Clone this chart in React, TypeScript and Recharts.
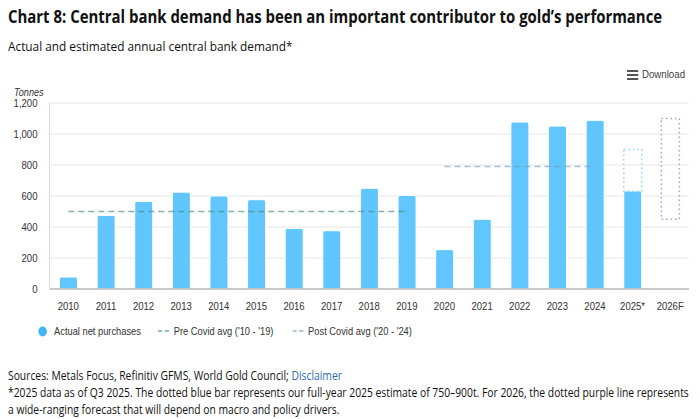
import { ComposedChart, Bar, Line, XAxis, YAxis, CartesianGrid } from 'recharts'

const years = ['2010', '2011', '2012', '2013', '2014', '2015', '2016', '2017', '2018', '2019', '2020', '2021', '2022', '2023', '2024', '2025*', '2026F']
const actual = [77, 475, 565, 625, 600, 576, 391, 376, 650, 604, 254, 450, 1077, 1051, 1088, 632, null]
// full-year 2025 estimate upper end (dotted blue)
const estimateHigh = [null, null, null, null, null, null, null, null, null, null, null, null, null, null, null, 900, null]
// 2026 forecast range (dotted purple)
const forecastLow = [null, null, null, null, null, null, null, null, null, null, null, null, null, null, null, null, 450]
const forecastHigh = [null, null, null, null, null, null, null, null, null, null, null, null, null, null, null, null, 1100]
const preCovidAvg = [500, 500, 500, 500, 500, 500, 500, 500, 500, 500, null, null, null, null, null, null, null]
const postCovidAvg = [null, null, null, null, null, null, null, null, null, null, 790, 790, 790, 790, 790, null, null]
const yTicks = [0, 200, 400, 600, 800, 1000, 1200]

const data = years.map((year, i) => ({
  year,
  actual: actual[i],
  estimate: estimateHigh[i] != null && actual[i] != null ? estimateHigh[i]! - actual[i]! : null,
  base: forecastLow[i],
  forecast: forecastHigh[i] != null && forecastLow[i] != null ? forecastHigh[i]! - forecastLow[i]! : null,
  pre: preCovidAvg[i],
  post: postCovidAvg[i],
}))

const BAR = '#62c6fe'
const PRE = '#3f8f80'
const POST = '#6f93b5'
const axisFont = '"Liberation Sans", Arial, sans-serif'
const textFont = '"Open Sans", "Noto Sans", sans-serif'
// the reference screenshot is squeezed horizontally
const SQ = 0.87

function Squeeze({ k, left, top, style, children }: { k: number; left: number; top: number; style?: any; children: any }) {
  return (
    <div style={{ position: 'absolute', left, top, transform: `scaleX(${k})`, transformOrigin: 'left top', whiteSpace: 'nowrap', ...style }}>
      {children}
    </div>
  )
}

function XTick(props: any) {
  const { x, y, payload } = props
  return (
    <g transform={`translate(${x},${y}) scale(${SQ},1)`}>
      <text x={0} y={0} dy="0.71em" textAnchor="middle" fill="#333" fontSize={11} fontFamily={axisFont}>
        {payload.value}
      </text>
    </g>
  )
}

function YTick(props: any) {
  const { x, y, payload } = props
  return (
    <g transform={`translate(${x},${y}) scale(${SQ},1)`}>
      <text x={0} y={0} dy="0.355em" textAnchor="end" fill="#333" fontSize={11} fontFamily={axisFont}>
        {Number(payload.value).toLocaleString('en-US')}
      </text>
    </g>
  )
}

export default function App() {
  return (
    <div style={{ position: 'absolute', left: 0, top: 0, width: 700, height: 419, background: '#fff', overflow: 'hidden' }}>
      <Squeeze k={0.878} left={8} top={5} style={{ fontFamily: textFont, fontWeight: 700, fontSize: 17, color: '#111' }}>
        Chart 8: Central bank demand has been an important contributor to gold’s performance
      </Squeeze>
      <Squeeze k={0.876} left={8} top={37} style={{ fontFamily: textFont, fontSize: 13.5, color: '#111' }}>
        Actual and estimated annual central bank demand*
      </Squeeze>
      <Squeeze k={0.88} left={627} top={68} style={{ fontFamily: axisFont, fontSize: 11, color: '#444', display: 'flex', alignItems: 'center' }}>
        <svg width={13} height={11} style={{ marginRight: 4 }}>
          <rect x={0} y={1} width={13} height={2} fill="#555" />
          <rect x={0} y={5} width={13} height={2} fill="#555" />
          <rect x={0} y={9} width={13} height={2} fill="#555" />
        </svg>
        Download
      </Squeeze>
      <Squeeze k={SQ} left={14} top={86} style={{ fontFamily: axisFont, fontStyle: 'italic', fontSize: 10.5, color: '#333' }}>
        Tonnes
      </Squeeze>

      <div style={{ position: 'absolute', left: 0, top: 0 }}>
        <ComposedChart width={700} height={419} data={data} margin={{ top: 103, right: 11, bottom: 100, left: 9.5 }}>
          <CartesianGrid vertical={false} stroke="#e6e6e6" />
          <XAxis
            dataKey="year"
            height={30}
            tickLine={false}
            tickMargin={7}
            axisLine={{ stroke: '#bdbdbd', strokeWidth: 1.5 }}
            tick={<XTick />}
            interval={0}
          />
          <YAxis
            width={40}
            domain={[0, 1200]}
            ticks={yTicks}
            tickLine={false}
            tickMargin={6}
            axisLine={{ stroke: '#d9d9d9' }}
            tick={<YTick />}
          />
          <Bar dataKey="actual" stackId="a" barSize={18} fill={BAR} stroke="#fff" strokeWidth={1} radius={[2, 2, 0, 0]} isAnimationActive={false} />
          <Bar dataKey="estimate" stackId="a" barSize={18} fill="none" stroke="#8fd6f7" strokeWidth={1.5} strokeDasharray="1.5 3" isAnimationActive={false} />
          <Bar dataKey="base" stackId="a" barSize={18} fill="none" stroke="none" isAnimationActive={false} />
          <Bar dataKey="forecast" stackId="a" barSize={18} fill="none" stroke="#b598d2" strokeWidth={1.5} strokeDasharray="1.5 3" isAnimationActive={false} />
          <Line dataKey="pre" stroke={PRE} strokeOpacity={0.65} strokeWidth={1.5} strokeDasharray="6 4" dot={false} activeDot={false} isAnimationActive={false} />
          <Line dataKey="post" stroke={POST} strokeOpacity={0.6} strokeWidth={1.5} strokeDasharray="6 4" dot={false} activeDot={false} isAnimationActive={false} />
        </ComposedChart>
      </div>

      <Squeeze k={0.845} left={38} top={325} style={{ fontFamily: axisFont, fontSize: 11, color: '#333', display: 'flex', alignItems: 'center' }}>
        <svg width={11} height={11} style={{ marginRight: 8 }}>
          <circle cx={5.5} cy={5.5} r={5} fill="#3fb5f5" />
        </svg>
        <span style={{ marginRight: 20 }}>Actual net purchases</span>
        <svg width={14} height={10} style={{ marginRight: 5 }}>
          <line x1={0} y1={5} x2={14} y2={5} stroke="#6fb2a4" strokeWidth={1.5} strokeDasharray="5 3" />
        </svg>
        <span style={{ marginRight: 22 }}>Pre Covid avg ('10 - '19)</span>
        <svg width={14} height={10} style={{ marginRight: 5 }}>
          <line x1={0} y1={5} x2={14} y2={5} stroke="#9fb4ca" strokeWidth={1.5} strokeDasharray="5 3" />
        </svg>
        <span>Post Covid avg ('20 - '24)</span>
      </Squeeze>

      <Squeeze k={0.86} left={8} top={367} style={{ fontFamily: textFont, fontSize: 12, color: '#111', lineHeight: '17px' }}>
        <div>
          Sources: Metals Focus, Refinitiv GFMS, World Gold Council; <span style={{ color: '#2b6cb0' }}>Disclaimer</span>
        </div>
        <div>
          *2025 data as of Q3 2025. The dotted blue bar represents our full-year 2025 estimate of 750–900t. For 2026, the dotted purple line represents
        </div>
        <div>a wide-ranging forecast that will depend on macro and policy drivers.</div>
      </Squeeze>
    </div>
  )
}
